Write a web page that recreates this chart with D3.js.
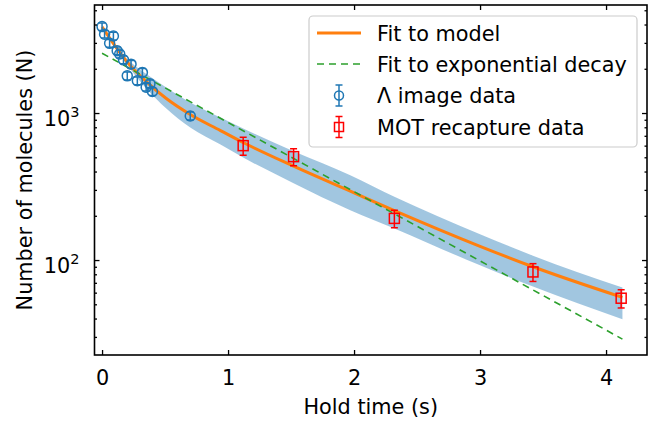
<!DOCTYPE html>
<html>
<head>
<meta charset="utf-8">
<script src="https://cdn.jsdelivr.net/npm/d3@7"></script>
<style>
  body { margin: 0; background: #fff; }
  text { font-family: "DejaVu Sans", sans-serif; }
</style>
</head>
<body>
<div class="chart"></div>
<script>
// Λ image data (hold time s, molecules, error)
const tImg = [0.00, 0.02, 0.09, 0.06, 0.12, 0.14, 0.17, 0.23, 0.20, 0.32, 0.28, 0.38, 0.35, 0.40, 0.70];
const nImg = [3870, 3440, 3340, 2980, 2650, 2520, 2300, 2150, 1790, 1890, 1660, 1580, 1500, 1400, 955];
const errImg = [230, 200, 200, 180, 160, 150, 140, 130, 110, 115, 100, 95, 90, 85, 60];

// MOT recapture data
const tMot = [1.12, 1.52, 2.32, 3.42, 4.12];
const nMot = [600, 505, 192, 83, 55];
const errMot = [83, 67, 26, 11.5, 7.8];

// fit to model
const fitT = [0, 0.09, 0.20, 0.36, 0.51, 0.70, 0.94, 1.12, 1.52, 1.97, 2.32, 3.00, 3.42, 4.13];
const fitN = [3850, 2970, 2220, 1610, 1255, 977, 760, 630, 435, 294, 217, 124, 90, 55.7];

// uncertainty band of the model
const bandT = [0, 0.20, 0.36, 0.51, 0.70, 0.94, 1.12, 1.52, 1.97, 2.32, 3.00, 3.42, 4.13];
const bandHi = [3850, 2330, 1822, 1491, 1179, 932, 784, 550, 378, 270, 150, 107, 65];
const bandLo = [3850, 2121, 1440, 1073, 797, 610, 498, 333, 218, 164, 92, 66, 39.5];

// fit to exponential decay (straight on log axis)
const expT = [0, 4.13];
const expN = [2550, 29];

const xTicks = [0, 1, 2, 3, 4];
const yMajor = [100, 1000];
const yMinor = [30, 40, 50, 60, 70, 80, 90, 200, 300, 400, 500, 600, 700, 800, 900, 2000, 3000, 4000, 5000];

const legendItems = ["Fit to model", "Fit to exponential decay", "\u039b image data", "MOT recapture data"];

/* Dimensions */
const width = 656, height = 422;
const plot = { left: 94.5, right: 647, top: 5, bottom: 355 };
const fontSize = 20.8;

/* Scales */
const x = d3.scaleLinear().domain([-0.06, 4.325]).range([plot.left, plot.right]);
const y = d3.scaleLog().domain([22.6, 5430]).range([plot.bottom, plot.top]);

const svg = d3.select(".chart").append("svg")
    .attr("width", width)
    .attr("height", height);

svg.append("defs").append("clipPath").attr("id", "clip")
    .append("rect")
    .attr("x", plot.left).attr("y", plot.top)
    .attr("width", plot.right - plot.left).attr("height", plot.bottom - plot.top);

const g = svg.append("g").attr("clip-path", "url(#clip)");

// band
const band = bandT.map((t, i) => ({ t, lo: bandLo[i], hi: bandHi[i] }));
g.append("path")
    .datum(band)
    .attr("fill", "#1f77b4")
    .attr("fill-opacity", 0.42)
    .attr("d", d3.area()
        .x(d => x(d.t))
        .y0(d => y(d.lo))
        .y1(d => y(d.hi))
        .curve(d3.curveMonotoneX));

// model fit
g.append("path")
    .datum(fitT.map((t, i) => ({ t, n: fitN[i] })))
    .attr("fill", "none")
    .attr("stroke", "#ff7f0e")
    .attr("stroke-width", 3)
    .attr("d", d3.line().x(d => x(d.t)).y(d => y(d.n)).curve(d3.curveMonotoneX));

// exponential fit
g.append("path")
    .datum(expT.map((t, i) => ({ t, n: expN[i] })))
    .attr("fill", "none")
    .attr("stroke", "#2ca02c")
    .attr("stroke-width", 1.6)
    .attr("stroke-dasharray", "7,5")
    .attr("d", d3.line().x(d => x(d.t)).y(d => y(d.n)));

// error bars helper
function errorBars(sel, data, color) {
    const eb = sel.selectAll(null).data(data).enter().append("g")
        .attr("stroke", color).attr("stroke-width", 1.5).attr("fill", "none");
    eb.append("line")
        .attr("x1", d => x(d.t)).attr("x2", d => x(d.t))
        .attr("y1", d => y(d.n + d.e)).attr("y2", d => y(d.n - d.e));
    eb.append("line")
        .attr("x1", d => x(d.t) - 3.5).attr("x2", d => x(d.t) + 3.5)
        .attr("y1", d => y(d.n + d.e)).attr("y2", d => y(d.n + d.e));
    eb.append("line")
        .attr("x1", d => x(d.t) - 3.5).attr("x2", d => x(d.t) + 3.5)
        .attr("y1", d => y(d.n - d.e)).attr("y2", d => y(d.n - d.e));
    return eb;
}

const imgData = tImg.map((t, i) => ({ t, n: nImg[i], e: errImg[i] }));
const motData = tMot.map((t, i) => ({ t, n: nMot[i], e: errMot[i] }));

errorBars(g, imgData, "#1f77b4")
    .append("circle")
    .attr("cx", d => x(d.t)).attr("cy", d => y(d.n)).attr("r", 5);

errorBars(g, motData, "red")
    .append("rect")
    .attr("x", d => x(d.t) - 5).attr("y", d => y(d.n) - 5)
    .attr("width", 10).attr("height", 10);

/* Axes */
function styleAxis(a) {
    a.select(".domain").remove();
    a.selectAll(".tick line").attr("stroke", "#000").attr("stroke-width", 1.3);
    a.selectAll("text").attr("font-size", null).style("font-size", fontSize + "px").attr("fill", "#000");
    a.attr("font-family", null);
}

styleAxis(svg.append("g")
    .attr("transform", `translate(0,${plot.bottom})`)
    .call(d3.axisBottom(x).tickValues(xTicks).tickFormat(d3.format("d")).tickSize(-5).tickPadding(15)));
styleAxis(svg.append("g")
    .attr("transform", `translate(0,${plot.top})`)
    .call(d3.axisTop(x).tickValues(xTicks).tickFormat("").tickSize(-5)));

const yLeft = svg.append("g")
    .attr("transform", `translate(${plot.left},0)`)
    .call(d3.axisLeft(y).tickValues(yMajor).tickSize(-5).tickPadding(15));
styleAxis(yLeft);
yLeft.selectAll(".tick text")
    .attr("dy", "0.6em")
    .each(function (d) {
        const t = d3.select(this).text(null);
        t.append("tspan").text("10");
        t.append("tspan").attr("dy", -9).style("font-size", "14.5px").text(Math.round(Math.log10(d)));
    });
styleAxis(svg.append("g")
    .attr("transform", `translate(${plot.left},0)`)
    .call(d3.axisLeft(y).tickValues(yMinor).tickSize(-2.5).tickFormat("")));
styleAxis(svg.append("g")
    .attr("transform", `translate(${plot.right},0)`)
    .call(d3.axisRight(y).tickValues(yMajor).tickSize(-5).tickFormat("")));
styleAxis(svg.append("g")
    .attr("transform", `translate(${plot.right},0)`)
    .call(d3.axisRight(y).tickValues(yMinor).tickSize(-2.5).tickFormat("")));

// frame
svg.append("rect")
    .attr("x", plot.left).attr("y", plot.top)
    .attr("width", plot.right - plot.left).attr("height", plot.bottom - plot.top)
    .attr("fill", "none").attr("stroke", "#000").attr("stroke-width", 1.6);

// axis labels
svg.append("text")
    .attr("x", (plot.left + plot.right) / 2)
    .attr("y", 414)
    .attr("text-anchor", "middle")
    .style("font-size", fontSize + "px")
    .text("Hold time (s)");
svg.append("text")
    .attr("transform", "rotate(-90)")
    .attr("x", -(plot.top + plot.bottom) / 2)
    .attr("y", 32)
    .attr("text-anchor", "middle")
    .style("font-size", fontSize + "px")
    .text("Number of molecules (N)");

/* Legend */
const lg = svg.append("g");
lg.append("rect")
    .attr("x", 309).attr("y", 16).attr("width", 328).attr("height", 131)
    .attr("rx", 4)
    .attr("fill", "#fff").attr("fill-opacity", 0.8)
    .attr("stroke", "#cccccc").attr("stroke-width", 1.2);
const rowY = [33, 64, 95.5, 127];
lg.append("line")
    .attr("x1", 317).attr("x2", 361).attr("y1", rowY[0]).attr("y2", rowY[0])
    .attr("stroke", "#ff7f0e").attr("stroke-width", 3);
lg.append("line")
    .attr("x1", 317).attr("x2", 361).attr("y1", rowY[1]).attr("y2", rowY[1])
    .attr("stroke", "#2ca02c").attr("stroke-width", 1.6).attr("stroke-dasharray", "7,5");
[["#1f77b4", rowY[2]], ["red", rowY[3]]].forEach(([c, cy], i) => {
    const h = lg.append("g").attr("stroke", c).attr("stroke-width", 1.5).attr("fill", "none");
    h.append("line").attr("x1", 339).attr("x2", 339).attr("y1", cy - 10.5).attr("y2", cy + 10.5);
    h.append("line").attr("x1", 335.5).attr("x2", 342.5).attr("y1", cy - 10.5).attr("y2", cy - 10.5);
    h.append("line").attr("x1", 335.5).attr("x2", 342.5).attr("y1", cy + 10.5).attr("y2", cy + 10.5);
    if (i === 0) h.append("circle").attr("cx", 339).attr("cy", cy).attr("r", 4.5);
    else h.append("rect").attr("x", 334.5).attr("y", cy - 4.5).attr("width", 9).attr("height", 9);
});
lg.selectAll(null).data(legendItems).enter().append("text")
    .attr("x", 377)
    .attr("y", (d, i) => rowY[i] + 7.5)
    .style("font-size", fontSize + "px")
    .text(d => d);
</script>
</body>
</html>
